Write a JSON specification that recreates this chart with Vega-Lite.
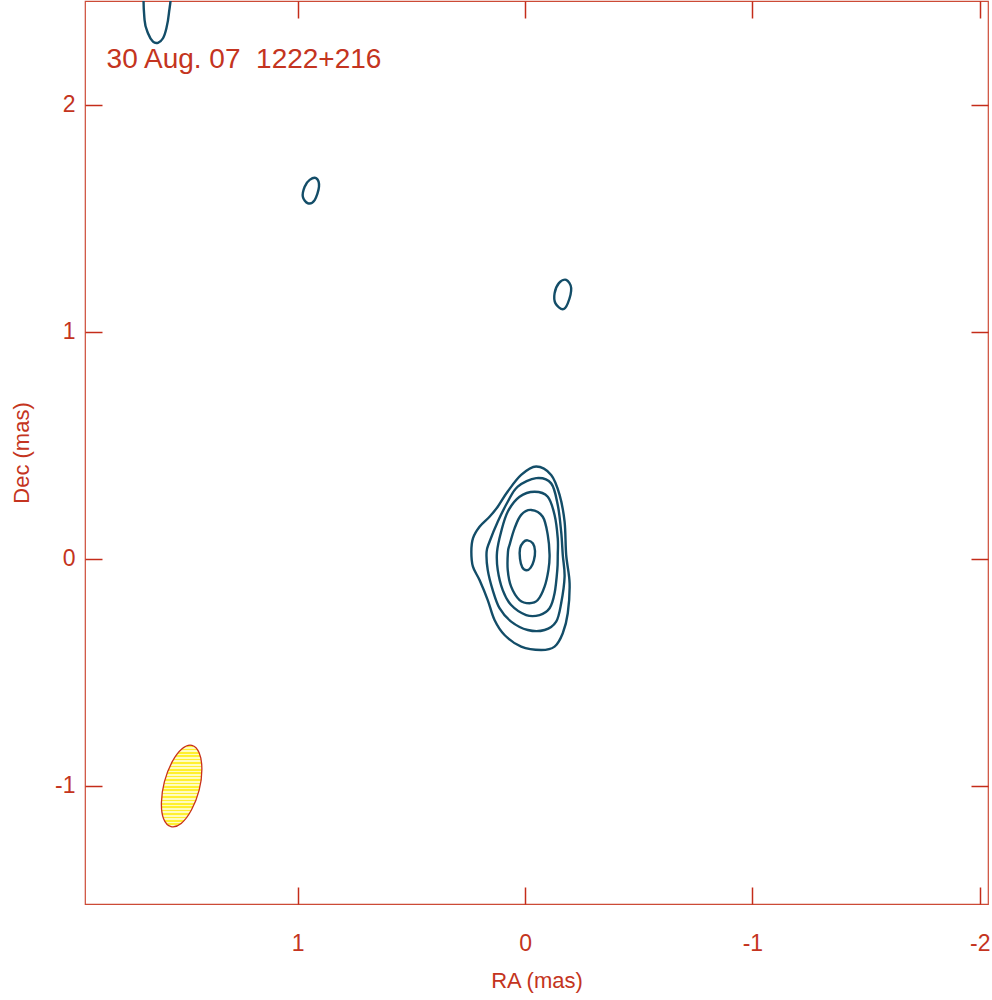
{
  "$schema": "https://vega.github.io/schema/vega-lite/v6.json",
  "autosize": "none",
  "width": 903,
  "height": 903,
  "padding": {"left": 85, "top": 1, "right": 4, "bottom": 96},
  "background": "white",
  "config": {
    "view": {"stroke": "#cc4a36", "strokeWidth": 1.2},
    "font": "Liberation Sans",
    "axis": {"grid": false, "domain": false, "tickColor": "#c42c1a", "tickWidth": 1.5, "labelColor": "#c43420", "titleColor": "#c43420", "labelFont": "Liberation Sans", "titleFont": "Liberation Sans", "labelFontSize": 23, "titleFontSize": 22, "titleFontWeight": "normal", "labelExpr": "replace(datum.label, '−', '-')"}
  },
  "resolve": {"axis": {"x": "independent", "y": "independent"}},
  "layer": [
    {
      "data": {"values": [
        {"c": "a", "i": 0, "ra": -0.049, "dec": 0.407},
        {"c": "a", "i": 1, "ra": -0.115, "dec": 0.370},
        {"c": "a", "i": 2, "ra": -0.152, "dec": 0.282},
        {"c": "a", "i": 3, "ra": -0.174, "dec": 0.164},
        {"c": "a", "i": 4, "ra": -0.181, "dec": 0.018},
        {"c": "a", "i": 5, "ra": -0.196, "dec": -0.107},
        {"c": "a", "i": 6, "ra": -0.188, "dec": -0.239},
        {"c": "a", "i": 7, "ra": -0.166, "dec": -0.327},
        {"c": "a", "i": 8, "ra": -0.130, "dec": -0.386},
        {"c": "a", "i": 9, "ra": -0.071, "dec": -0.401},
        {"c": "a", "i": 10, "ra": 0.017, "dec": -0.386},
        {"c": "a", "i": 11, "ra": 0.090, "dec": -0.335},
        {"c": "a", "i": 12, "ra": 0.134, "dec": -0.269},
        {"c": "a", "i": 13, "ra": 0.164, "dec": -0.181},
        {"c": "a", "i": 14, "ra": 0.200, "dec": -0.093},
        {"c": "a", "i": 15, "ra": 0.229, "dec": -0.034},
        {"c": "a", "i": 16, "ra": 0.236, "dec": 0.031},
        {"c": "a", "i": 17, "ra": 0.229, "dec": 0.091},
        {"c": "a", "i": 18, "ra": 0.200, "dec": 0.142},
        {"c": "a", "i": 19, "ra": 0.156, "dec": 0.186},
        {"c": "a", "i": 20, "ra": 0.120, "dec": 0.230},
        {"c": "a", "i": 21, "ra": 0.077, "dec": 0.296},
        {"c": "a", "i": 22, "ra": 0.017, "dec": 0.370},
        {"c": "b", "i": 0, "ra": -0.049, "dec": 0.356},
        {"c": "b", "i": 1, "ra": -0.115, "dec": 0.333},
        {"c": "b", "i": 2, "ra": -0.144, "dec": 0.238},
        {"c": "b", "i": 3, "ra": -0.159, "dec": 0.120},
        {"c": "b", "i": 4, "ra": -0.166, "dec": 0.018},
        {"c": "b", "i": 5, "ra": -0.174, "dec": -0.078},
        {"c": "b", "i": 6, "ra": -0.159, "dec": -0.195},
        {"c": "b", "i": 7, "ra": -0.137, "dec": -0.276},
        {"c": "b", "i": 8, "ra": -0.086, "dec": -0.313},
        {"c": "b", "i": 9, "ra": -0.012, "dec": -0.313},
        {"c": "b", "i": 10, "ra": 0.061, "dec": -0.276},
        {"c": "b", "i": 11, "ra": 0.112, "dec": -0.217},
        {"c": "b", "i": 12, "ra": 0.142, "dec": -0.137},
        {"c": "b", "i": 13, "ra": 0.164, "dec": -0.048},
        {"c": "b", "i": 14, "ra": 0.169, "dec": 0.031},
        {"c": "b", "i": 15, "ra": 0.156, "dec": 0.076},
        {"c": "b", "i": 16, "ra": 0.120, "dec": 0.164},
        {"c": "b", "i": 17, "ra": 0.076, "dec": 0.252},
        {"c": "b", "i": 18, "ra": 0.032, "dec": 0.319},
        {"c": "c", "i": 0, "ra": -0.042, "dec": 0.296},
        {"c": "c", "i": 1, "ra": -0.100, "dec": 0.274},
        {"c": "c", "i": 2, "ra": -0.130, "dec": 0.194},
        {"c": "c", "i": 3, "ra": -0.144, "dec": 0.091},
        {"c": "c", "i": 4, "ra": -0.144, "dec": 0.018},
        {"c": "c", "i": 5, "ra": -0.142, "dec": -0.048},
        {"c": "c", "i": 6, "ra": -0.130, "dec": -0.151},
        {"c": "c", "i": 7, "ra": -0.108, "dec": -0.217},
        {"c": "c", "i": 8, "ra": -0.064, "dec": -0.247},
        {"c": "c", "i": 9, "ra": -0.005, "dec": -0.247},
        {"c": "c", "i": 10, "ra": 0.061, "dec": -0.203},
        {"c": "c", "i": 11, "ra": 0.098, "dec": -0.137},
        {"c": "c", "i": 12, "ra": 0.120, "dec": -0.048},
        {"c": "c", "i": 13, "ra": 0.123, "dec": 0.031},
        {"c": "c", "i": 14, "ra": 0.105, "dec": 0.120},
        {"c": "c", "i": 15, "ra": 0.076, "dec": 0.208},
        {"c": "c", "i": 16, "ra": 0.024, "dec": 0.274},
        {"c": "d", "i": 0, "ra": -0.027, "dec": 0.216},
        {"c": "d", "i": 1, "ra": -0.078, "dec": 0.186},
        {"c": "d", "i": 2, "ra": -0.100, "dec": 0.106},
        {"c": "d", "i": 3, "ra": -0.108, "dec": 0.018},
        {"c": "d", "i": 4, "ra": -0.103, "dec": -0.048},
        {"c": "d", "i": 5, "ra": -0.086, "dec": -0.122},
        {"c": "d", "i": 6, "ra": -0.056, "dec": -0.181},
        {"c": "d", "i": 7, "ra": -0.020, "dec": -0.195},
        {"c": "d", "i": 8, "ra": 0.024, "dec": -0.181},
        {"c": "d", "i": 9, "ra": 0.061, "dec": -0.122},
        {"c": "d", "i": 10, "ra": 0.076, "dec": -0.048},
        {"c": "d", "i": 11, "ra": 0.075, "dec": 0.031},
        {"c": "d", "i": 12, "ra": 0.068, "dec": 0.062},
        {"c": "d", "i": 13, "ra": 0.046, "dec": 0.135},
        {"c": "d", "i": 14, "ra": 0.017, "dec": 0.194},
        {"c": "e", "i": 0, "ra": -0.011, "dec": 0.082},
        {"c": "e", "i": 1, "ra": -0.035, "dec": 0.068},
        {"c": "e", "i": 2, "ra": -0.044, "dec": 0.035},
        {"c": "e", "i": 3, "ra": -0.039, "dec": -0.006},
        {"c": "e", "i": 4, "ra": -0.025, "dec": -0.038},
        {"c": "e", "i": 5, "ra": -0.007, "dec": -0.050},
        {"c": "e", "i": 6, "ra": 0.012, "dec": -0.037},
        {"c": "e", "i": 7, "ra": 0.022, "dec": 0.000},
        {"c": "e", "i": 8, "ra": 0.022, "dec": 0.046},
        {"c": "e", "i": 9, "ra": 0.008, "dec": 0.073},
        {"c": "f", "i": 0, "ra": 0.918, "dec": 1.677},
        {"c": "f", "i": 1, "ra": 0.906, "dec": 1.640},
        {"c": "f", "i": 2, "ra": 0.925, "dec": 1.581},
        {"c": "f", "i": 3, "ra": 0.955, "dec": 1.567},
        {"c": "f", "i": 4, "ra": 0.977, "dec": 1.596},
        {"c": "f", "i": 5, "ra": 0.969, "dec": 1.640},
        {"c": "f", "i": 6, "ra": 0.947, "dec": 1.670},
        {"c": "g", "i": 0, "ra": -0.181, "dec": 1.229},
        {"c": "g", "i": 1, "ra": -0.203, "dec": 1.193},
        {"c": "g", "i": 2, "ra": -0.188, "dec": 1.126},
        {"c": "g", "i": 3, "ra": -0.166, "dec": 1.100},
        {"c": "g", "i": 4, "ra": -0.134, "dec": 1.126},
        {"c": "g", "i": 5, "ra": -0.130, "dec": 1.170},
        {"c": "g", "i": 6, "ra": -0.149, "dec": 1.215},
        {"c": "h", "i": 0, "ra": 1.673, "dec": 2.507},
        {"c": "h", "i": 1, "ra": 1.673, "dec": 2.374},
        {"c": "h", "i": 2, "ra": 1.658, "dec": 2.316},
        {"c": "h", "i": 3, "ra": 1.636, "dec": 2.279},
        {"c": "h", "i": 4, "ra": 1.614, "dec": 2.274},
        {"c": "h", "i": 5, "ra": 1.592, "dec": 2.294},
        {"c": "h", "i": 6, "ra": 1.577, "dec": 2.338},
        {"c": "h", "i": 7, "ra": 1.566, "dec": 2.404},
        {"c": "h", "i": 8, "ra": 1.560, "dec": 2.507},
        {"c": "h", "i": 9, "ra": 1.615, "dec": 2.573}
      ]},
      "mark": {"type": "line", "interpolate": "cardinal-closed", "stroke": "#134d68", "strokeWidth": 2.4, "clip": true},
      "encoding": {
        "x": {"field": "ra", "type": "quantitative", "scale": {"domain": [-2.036, 1.935], "reverse": true, "nice": false, "zero": false},
              "axis": {"orient": "bottom", "values": [-2, -1, 0, 1], "tickSize": -17, "labelPadding": 45, "title": "RA (mas)", "titlePadding": 15}},
        "y": {"field": "dec", "type": "quantitative", "scale": {"domain": [-1.52, 2.458], "nice": false, "zero": false},
              "axis": {"orient": "left", "values": [-1, 0, 1, 2], "tickSize": -17, "labelPadding": 27, "title": "Dec (mas)", "titlePadding": 21}},
        "detail": {"field": "c"},
        "order": {"field": "i", "type": "quantitative"}
      }
    },
    {
      "data": {"values": [
        {"i": 0, "ra": 1.465, "dec": -0.821},
        {"i": 1, "ra": 1.433, "dec": -0.854},
        {"i": 2, "ra": 1.421, "dec": -0.926},
        {"i": 3, "ra": 1.433, "dec": -1.018},
        {"i": 4, "ra": 1.467, "dec": -1.106},
        {"i": 5, "ra": 1.512, "dec": -1.165},
        {"i": 6, "ra": 1.557, "dec": -1.179},
        {"i": 7, "ra": 1.589, "dec": -1.146},
        {"i": 8, "ra": 1.599, "dec": -1.074},
        {"i": 9, "ra": 1.586, "dec": -0.982},
        {"i": 10, "ra": 1.552, "dec": -0.894},
        {"i": 11, "ra": 1.507, "dec": -0.835}
      ]},
      "mark": {"type": "line", "interpolate": "cardinal-closed", "stroke": "#c8301c", "strokeWidth": 1.3,
        "fill": {"gradient": "linear", "x1": 0, "y1": 0, "x2": 0, "y2": 1, "stops": [
          {"offset": 0, "color": "#fff030"}, {"offset": 0.02083, "color": "#fff030"}, {"offset": 0.02083, "color": "#fffcc0"}, {"offset": 0.04167, "color": "#fffcc0"},
          {"offset": 0.04167, "color": "#fff030"}, {"offset": 0.0625, "color": "#fff030"}, {"offset": 0.0625, "color": "#fffcc0"}, {"offset": 0.08333, "color": "#fffcc0"},
          {"offset": 0.08333, "color": "#fff030"}, {"offset": 0.10417, "color": "#fff030"}, {"offset": 0.10417, "color": "#fffcc0"}, {"offset": 0.125, "color": "#fffcc0"},
          {"offset": 0.125, "color": "#fff030"}, {"offset": 0.14583, "color": "#fff030"}, {"offset": 0.14583, "color": "#fffcc0"}, {"offset": 0.16667, "color": "#fffcc0"},
          {"offset": 0.16667, "color": "#fff030"}, {"offset": 0.1875, "color": "#fff030"}, {"offset": 0.1875, "color": "#fffcc0"}, {"offset": 0.20833, "color": "#fffcc0"},
          {"offset": 0.20833, "color": "#fff030"}, {"offset": 0.22917, "color": "#fff030"}, {"offset": 0.22917, "color": "#fffcc0"}, {"offset": 0.25, "color": "#fffcc0"},
          {"offset": 0.25, "color": "#fff030"}, {"offset": 0.27083, "color": "#fff030"}, {"offset": 0.27083, "color": "#fffcc0"}, {"offset": 0.29167, "color": "#fffcc0"},
          {"offset": 0.29167, "color": "#fff030"}, {"offset": 0.3125, "color": "#fff030"}, {"offset": 0.3125, "color": "#fffcc0"}, {"offset": 0.33333, "color": "#fffcc0"},
          {"offset": 0.33333, "color": "#fff030"}, {"offset": 0.35417, "color": "#fff030"}, {"offset": 0.35417, "color": "#fffcc0"}, {"offset": 0.375, "color": "#fffcc0"},
          {"offset": 0.375, "color": "#fff030"}, {"offset": 0.39583, "color": "#fff030"}, {"offset": 0.39583, "color": "#fffcc0"}, {"offset": 0.41667, "color": "#fffcc0"},
          {"offset": 0.41667, "color": "#fff030"}, {"offset": 0.4375, "color": "#fff030"}, {"offset": 0.4375, "color": "#fffcc0"}, {"offset": 0.45833, "color": "#fffcc0"},
          {"offset": 0.45833, "color": "#fff030"}, {"offset": 0.47917, "color": "#fff030"}, {"offset": 0.47917, "color": "#fffcc0"}, {"offset": 0.5, "color": "#fffcc0"},
          {"offset": 0.5, "color": "#fff030"}, {"offset": 0.52083, "color": "#fff030"}, {"offset": 0.52083, "color": "#fffcc0"}, {"offset": 0.54167, "color": "#fffcc0"},
          {"offset": 0.54167, "color": "#fff030"}, {"offset": 0.5625, "color": "#fff030"}, {"offset": 0.5625, "color": "#fffcc0"}, {"offset": 0.58333, "color": "#fffcc0"},
          {"offset": 0.58333, "color": "#fff030"}, {"offset": 0.60417, "color": "#fff030"}, {"offset": 0.60417, "color": "#fffcc0"}, {"offset": 0.625, "color": "#fffcc0"},
          {"offset": 0.625, "color": "#fff030"}, {"offset": 0.64583, "color": "#fff030"}, {"offset": 0.64583, "color": "#fffcc0"}, {"offset": 0.66667, "color": "#fffcc0"},
          {"offset": 0.66667, "color": "#fff030"}, {"offset": 0.6875, "color": "#fff030"}, {"offset": 0.6875, "color": "#fffcc0"}, {"offset": 0.70833, "color": "#fffcc0"},
          {"offset": 0.70833, "color": "#fff030"}, {"offset": 0.72917, "color": "#fff030"}, {"offset": 0.72917, "color": "#fffcc0"}, {"offset": 0.75, "color": "#fffcc0"},
          {"offset": 0.75, "color": "#fff030"}, {"offset": 0.77083, "color": "#fff030"}, {"offset": 0.77083, "color": "#fffcc0"}, {"offset": 0.79167, "color": "#fffcc0"},
          {"offset": 0.79167, "color": "#fff030"}, {"offset": 0.8125, "color": "#fff030"}, {"offset": 0.8125, "color": "#fffcc0"}, {"offset": 0.83333, "color": "#fffcc0"},
          {"offset": 0.83333, "color": "#fff030"}, {"offset": 0.85417, "color": "#fff030"}, {"offset": 0.85417, "color": "#fffcc0"}, {"offset": 0.875, "color": "#fffcc0"},
          {"offset": 0.875, "color": "#fff030"}, {"offset": 0.89583, "color": "#fff030"}, {"offset": 0.89583, "color": "#fffcc0"}, {"offset": 0.91667, "color": "#fffcc0"},
          {"offset": 0.91667, "color": "#fff030"}, {"offset": 0.9375, "color": "#fff030"}, {"offset": 0.9375, "color": "#fffcc0"}, {"offset": 0.95833, "color": "#fffcc0"},
          {"offset": 0.95833, "color": "#fff030"}, {"offset": 0.97917, "color": "#fff030"}, {"offset": 0.97917, "color": "#fffcc0"}, {"offset": 1, "color": "#fffcc0"}
        ]}},
      "encoding": {
        "x": {"field": "ra", "type": "quantitative", "axis": {"orient": "top", "values": [-2, -1, 0, 1], "tickSize": -17, "labels": false, "title": null}},
        "y": {"field": "dec", "type": "quantitative", "axis": {"orient": "right", "values": [-1, 0, 1, 2], "tickSize": -17, "labels": false, "title": null}},
        "order": {"field": "i", "type": "quantitative"}
      }
    },
    {
      "data": {"values": [{"label": "30 Aug. 07\u00a0 1222+216"}]},
      "mark": {"type": "text", "align": "left", "baseline": "alphabetic", "font": "Liberation Sans", "fontSize": 28, "color": "#c43420"},
      "encoding": {
        "x": {"datum": 1.84, "type": "quantitative", "axis": null},
        "y": {"datum": 2.163, "type": "quantitative", "axis": null},
        "text": {"field": "label"}
      }
    }
  ]
}
